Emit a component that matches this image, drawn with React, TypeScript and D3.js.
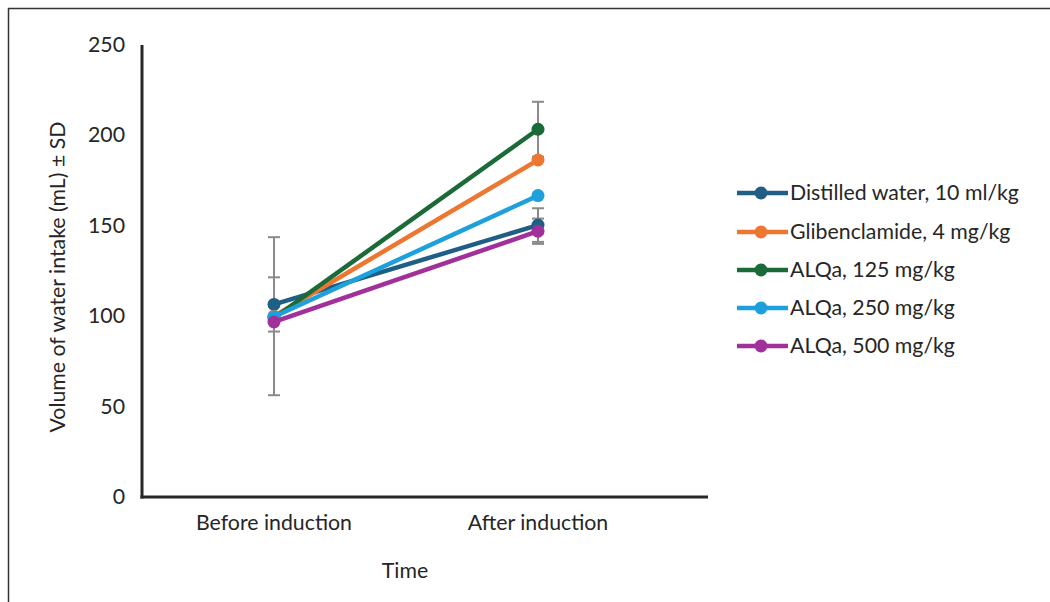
import React from "react";
import * as d3 from "d3";

const categories = ["Before induction", "After induction"];
const seriesNames = [
  "Distilled water, 10 ml/kg",
  "Glibenclamide, 4 mg/kg",
  "ALQa, 125 mg/kg",
  "ALQa, 250 mg/kg",
  "ALQa, 500 mg/kg",
];
const seriesColors = ["#1f5f86", "#ed7631", "#1b6b38", "#1ea0dc", "#a1309a"];
const meanBefore = [106.5, 100, 99, 99.7, 96.8];
const meanAfter = [150.4, 186.4, 203.4, 166.7, 147];
const sdBefore = [15, 43.7, 0, 0, 0];
const sdAfter = [9.3, 0, 15.2, 0, 7];
const yTicks = [0, 50, 100, 150, 200, 250];

const W = 1050;
const H = 602;
const FONT = "Lato, 'Open Sans', sans-serif";
const FS = 21.3;

export default function App() {
  const x0 = 142;
  const x1 = 708;
  const y = d3.scaleLinear().domain([0, 250]).range([497, 45]);
  const x = d3.scalePoint<string>().domain(categories).range([274, 538]);

  const series = seriesNames.map((name, i) => ({
    name,
    color: seriesColors[i],
    values: [meanBefore[i], meanAfter[i]],
    sds: [sdBefore[i], sdAfter[i]],
  }));

  const line = d3
    .line<number>()
    .x((_, j) => x(categories[j]) as number)
    .y((v) => y(v));

  const legendY = [193, 232, 270, 308, 346];

  return (
    <div style={{ position: "absolute", left: 0, top: 0, margin: 0 }}>
      <svg width={W} height={H} style={{ display: "block", background: "#fff" }}>
        <line x1={8} y1={8.5} x2={W} y2={8.5} stroke="#333" strokeWidth={1.5} />
        <line x1={8.5} y1={8} x2={8.5} y2={H} stroke="#333" strokeWidth={1.5} />

        {/* error bars */}
        {series.map((s, i) =>
          s.values.map((v, j) =>
            s.sds[j] > 0 ? (
              <g key={`eb-${i}-${j}`} stroke="#8a8a8a" strokeWidth={2}>
                <line
                  x1={x(categories[j])}
                  x2={x(categories[j])}
                  y1={y(v + s.sds[j])}
                  y2={y(v - s.sds[j])}
                />
                <line
                  x1={(x(categories[j]) as number) - 6}
                  x2={(x(categories[j]) as number) + 6}
                  y1={y(v + s.sds[j])}
                  y2={y(v + s.sds[j])}
                />
                <line
                  x1={(x(categories[j]) as number) - 6}
                  x2={(x(categories[j]) as number) + 6}
                  y1={y(v - s.sds[j])}
                  y2={y(v - s.sds[j])}
                />
              </g>
            ) : null
          )
        )}

        {/* lines */}
        {series.map((s, i) => (
          <g key={`s-${i}`}>
            <path d={line(s.values) || ""} fill="none" stroke={s.color} strokeWidth={4.5} />
            {s.values.map((v, j) => (
              <circle key={j} cx={x(categories[j])} cy={y(v)} r={6.5} fill={s.color} />
            ))}
          </g>
        ))}

        {/* axes */}
        <line x1={x0} y1={45} x2={x0} y2={498.5} stroke="#262626" strokeWidth={3} />
        <line x1={x0 - 1.5} y1={497} x2={x1} y2={497} stroke="#262626" strokeWidth={3} />

        {yTicks.map((t) => (
          <text
            key={t}
            x={125}
            y={y(t) - 1}
            textAnchor="end"
            dominantBaseline="central"
            fontFamily={FONT}
            fontSize={FS}
            fill="#262626"
          >
            {t}
          </text>
        ))}

        {categories.map((c) => (
          <text
            key={c}
            x={x(c)}
            y={521.5}
            textAnchor="middle"
            dominantBaseline="central"
            fontFamily={FONT}
            fontSize={FS}
            fill="#262626"
          >
            {c}
          </text>
        ))}

        <text
          x={405}
          y={570}
          textAnchor="middle"
          dominantBaseline="central"
          fontFamily={FONT}
          fontSize={FS}
          fill="#262626"
        >
          Time
        </text>

        <text
          transform={`translate(57,277) rotate(-90)`}
          textAnchor="middle"
          dominantBaseline="central"
          fontFamily={FONT}
          fontSize={FS}
          fill="#262626"
        >
          Volume of water intake (mL) ± SD
        </text>

        {/* legend */}
        {series.map((s, i) => (
          <g key={`lg-${i}`}>
            <line x1={737} x2={788} y1={legendY[i]} y2={legendY[i]} stroke={s.color} strokeWidth={4.5} />
            <circle cx={761} cy={legendY[i]} r={6.5} fill={s.color} />
            <text
              x={790}
              y={legendY[i] - 1}
              dominantBaseline="central"
              fontFamily={FONT}
              fontSize={FS}
              fill="#262626"
            >
              {s.name}
            </text>
          </g>
        ))}
      </svg>
    </div>
  );
}
